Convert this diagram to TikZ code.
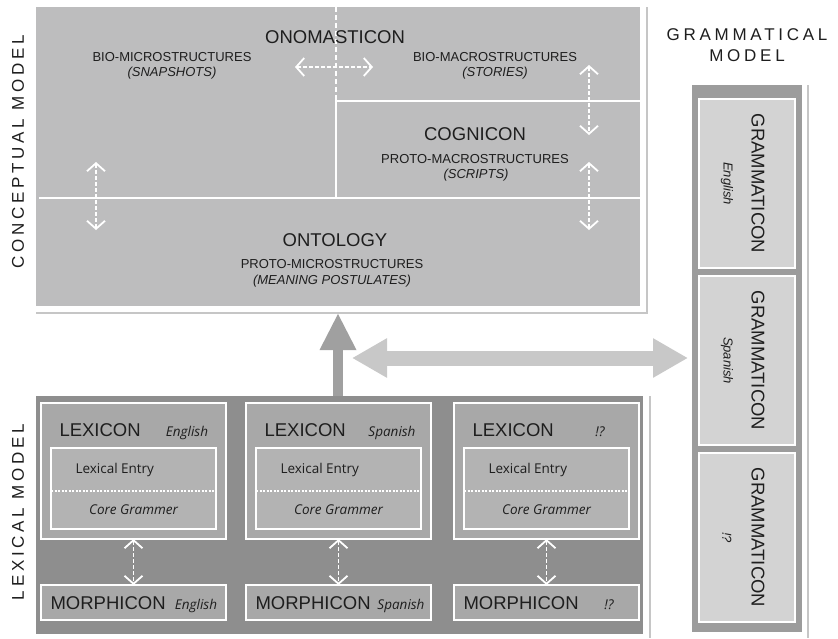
\documentclass[tikz,border=0pt]{standalone}
\usepackage{fontspec}
\setmainfont{Liberation Sans}
\newfontfamily\lexfont{Open Sans}
\newfontfamily\spacedfont[LetterSpace=22]{Liberation Sans}
\usetikzlibrary{arrows.meta}

\definecolor{concept}{HTML}{BDBDBE}
\definecolor{lexback}{HTML}{8E8E8E}
\definecolor{lexgray}{HTML}{A8A8A8}
\definecolor{entrygray}{HTML}{B3B3B3}
\definecolor{gramback}{HTML}{9C9C9C}
\definecolor{grambox}{HTML}{D3D3D3}
\definecolor{framegray}{HTML}{C6C6C6}
\definecolor{upgray}{HTML}{A0A0A0}
\definecolor{sidegray}{HTML}{C8C8C8}
\definecolor{ink}{HTML}{1E1E1E}

\begin{document}
\begin{tikzpicture}[x=1pt,y=-1pt,
		panel/.style={anchor=north west,inner sep=0pt,outer sep=0pt},
		wbox/.style={panel,draw=white,line width=1.8pt},
		wline/.style={draw=white,line width=2.6pt},
		frame/.style={draw=framegray,line width=1.4pt},
		dashtip/.style={draw=white,line width=1.8pt,dash pattern=on 4pt off 2pt,
			{Straight Barb[length=8pt,width=18pt]}-{Straight Barb[length=8pt,width=18pt]}},
		bigup/.style={draw=upgray,line width=10pt,-{Triangle[length=37pt,width=34pt]}},
		bigside/.style={draw=sidegray,line width=15pt,
			{Triangle[length=35pt,width=37pt]}-{Triangle[length=35pt,width=37pt]}},
		big/.style={font=\fontsize{18.5}{20}\selectfont,text=ink},
		small/.style={font=\fontsize{13}{14}\selectfont,text=ink},
		smallit/.style={font=\fontsize{13}{14}\selectfont\itshape,text=ink},
		lexsmall/.style={font=\lexfont\fontsize{13.5}{15}\selectfont,text=ink},
		lexit/.style={font=\lexfont\fontsize{13.5}{15}\selectfont\itshape,text=ink},
		spaced/.style={font=\spacedfont\fontsize{17}{21}\selectfont,text=ink}]
		\fill[white] (0,0) rectangle (838,638);
		\useasboundingbox (0,0) rectangle (838,638);
		
		% conceptual model
		\node[panel,fill=concept,minimum width=604,minimum height=299] (concept) at (36,7) {};
		\draw[frame] (647,7) -- (647,313) -- (36,313);
		\draw[wline] (39,198) -- (640,198);
		\draw[wline] (336,198) -- (336,101) -- (640,101);
		\draw[wline,dash pattern=on 5pt off 3pt] (336,7) -- (336,101);
		
		\node[big,anchor=base] (onomasticon) at (335,43) {ONOMASTICON};
		\node[small,anchor=base] (biomicro) at (172,61) {BIO-MICROSTRUCTURES};
		\node[smallit,anchor=base] (snapshots) at (172,76) {(SNAPSHOTS)};
		\node[small,anchor=base] (biomacro) at (495,61) {BIO-MACROSTRUCTURES};
		\node[smallit,anchor=base] (stories) at (495,76) {(STORIES)};
		\node[big,anchor=base] (cognicon) at (475,140) {COGNICON};
		\node[small,anchor=base] (protomacro) at (475,163) {PROTO-MACROSTRUCTURES};
		\node[smallit,anchor=base] (scripts) at (476,178) {(SCRIPTS)};
		\node[big,anchor=base] (ontology) at (335,246) {ONTOLOGY};
		\node[small,anchor=base] (protomicro) at (332,268) {PROTO-MICROSTRUCTURES};
		\node[smallit,anchor=base] (postulates) at (332,284) {(MEANING POSTULATES)};
		
		\coordinate (microside) at (295,67);
		\coordinate (macroside) at (373,67);
		\coordinate (storyend) at (589,65);
		\coordinate (scriptend) at (589,135);
		\coordinate (cogend) at (589,162);
		\coordinate (ontoend) at (589,230);
		\coordinate (microend) at (96,162);
		\coordinate (ontoleft) at (96,230);
		\draw[dashtip] (microside) -- (macroside);
		\draw[dashtip] (storyend) -- (scriptend);
		\draw[dashtip] (cogend) -- (ontoend);
		\draw[dashtip] (microend) -- (ontoleft);
		
		\node[spaced,rotate=90] (conceptlabel) at (18,152) {CONCEPTUAL MODEL};
		
		% grammatical model
		\node[spaced,align=center] (gramlabel) at (747,45) {GRAMMATICAL\\MODEL};
		\node[panel,fill=gramback,minimum width=110,minimum height=547] (grammar) at (692,85) {};
		\draw[frame] (808,85) -- (808,638);
		\foreach \y/\lang/\n in {99/English/1,276/Spanish/2,453/{!?}/3}{
			\node[wbox,fill=grambox,minimum width=96,minimum height=169] (gram\n) at (699,\y) {};
			\node[big,rotate=-90] (gramname\n) at (758,\y+84.5) {GRAMMATICON};
			\node[smallit,rotate=-90] (gramlang\n) at (727,\y+84.5) {\lang};
		}
		
		% lexical model
		\node[panel,fill=lexback,minimum width=607,minimum height=238] (lexical) at (36,396) {};
		\draw[frame] (650,396) -- (650,638);
		\foreach \x/\lang/\n in {41/English/1,246/Spanish/2,454/{!?}/3}{
			\node[wbox,fill=lexgray,minimum width=185,minimum height=136] (lex\n) at (\x,403) {};
			\node[wbox,fill=entrygray,minimum width=165,minimum height=81] (entry\n) at (\x+10,448) {};
			\draw[white,line width=1.2pt,dash pattern=on 2pt off 1.5pt] (\x+10,491) -- (\x+175,491);
			\node[big,anchor=base west] (lexname\n) at (\x+15,436) {LEXICON};
			\node[lexit,anchor=base] (lexlang\n) at (\x+146,436) {\lang};
			\node[lexsmall,anchor=base west] (entryname\n) at (\x+31,473) {Lexical Entry};
			\node[lexit,anchor=base] (core\n) at (\x+92.5,514) {Core Grammer};
			\node[wbox,fill=lexgray,minimum width=185,minimum height=35] (morph\n) at (\x,585) {};
			\node[big,anchor=base west] (morphname\n) at (\x+6,609) {MORPHICON};
			\node[lexit,anchor=base] (morphlang\n) at (\x+155,609) {\lang};
			\draw[dashtip] (lex\n.south) -- (morph\n.north);
		}
		\node[spaced,rotate=90] (lexlabel) at (18,512) {LEXICAL MODEL};
		
		% links between the models
		\coordinate (uptip) at (338,313);
		\draw[bigup] (lexical.north -| uptip) -- (uptip);
		\coordinate (sideleft) at (352,358);
		\draw[bigside,shorten >=4pt] (sideleft) -- (grammar.west |- sideleft);
		\end{tikzpicture}
\end{document}
